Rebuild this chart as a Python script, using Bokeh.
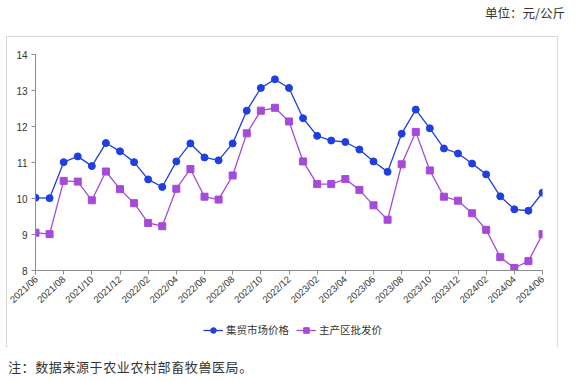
from bokeh.plotting import figure
from bokeh.models import Range1d, Legend, LegendItem, Div, FixedTicker
from bokeh.layouts import column
from bokeh.embed import file_html
from bokeh.resources import INLINE

months = ["2021/06", "2021/07", "2021/08", "2021/09", "2021/10", "2021/11", "2021/12",
          "2022/01", "2022/02", "2022/03", "2022/04", "2022/05", "2022/06", "2022/07",
          "2022/08", "2022/09", "2022/10", "2022/11", "2022/12", "2023/01", "2023/02",
          "2023/03", "2023/04", "2023/05", "2023/06", "2023/07", "2023/08", "2023/09",
          "2023/10", "2023/11", "2023/12", "2024/01", "2024/02", "2024/03", "2024/04",
          "2024/05", "2024/06"]

market = [10.02, 10.01, 11.01, 11.17, 10.90, 11.54, 11.31, 11.01, 10.53, 10.32,
          11.03, 11.53, 11.14, 11.06, 11.53, 12.44, 13.07, 13.31, 13.07, 12.23,
          11.74, 11.61, 11.57, 11.36, 11.03, 10.74, 11.80, 12.47, 11.95, 11.39,
          11.25, 10.97, 10.67, 10.06, 9.70, 9.66, 10.16]

wholesale = [9.05, 9.01, 10.49, 10.47, 9.95, 10.75, 10.26, 9.87, 9.32, 9.23,
             10.27, 10.82, 10.05, 9.97, 10.64, 11.81, 12.44, 12.52, 12.14, 11.03,
             10.40, 10.40, 10.54, 10.24, 9.81, 9.41, 10.95, 11.85, 10.78, 10.05,
             9.94, 9.59, 9.13, 8.37, 8.07, 8.26, 9.01]

series_names = ["集贸市场价格", "主产区批发价"]
unit_text = "单位：元/公斤"
note_text = "注：数据来源于农业农村部畜牧兽医局。"

BLUE = "#1f3fe0"
PURPLE = "#a64ad8"
AXIS = "#8c8c8c"
TEXT = "#333333"

x = list(range(len(months)))

# main chart
p = figure(width=552, height=275, output_backend="svg", toolbar_location=None,
           x_range=Range1d(0, len(months) - 1), y_range=Range1d(8, 14),
           min_border_left=28, min_border_right=15, min_border_top=17, min_border_bottom=42)
p.outline_line_color = None
p.xgrid.grid_line_color = None
p.ygrid.grid_line_color = None

p.line(x, market, line_color=BLUE, line_width=1.3)
p.scatter(x, market, marker="circle", size=7, fill_color=BLUE, line_color=BLUE)
p.line(x, wholesale, line_color=PURPLE, line_width=1.3)
p.scatter(x, wholesale, marker="square", size=7, fill_color=PURPLE, line_color=PURPLE)

for ax in (p.xaxis[0], p.yaxis[0]):
    ax.axis_line_color = AXIS
    ax.major_tick_line_color = AXIS
    ax.minor_tick_line_color = None
    ax.major_tick_in = 0
    ax.major_tick_out = 4
    ax.major_label_text_font = "Liberation Sans"
    ax.major_label_text_color = TEXT

p.yaxis.major_label_text_font_size = "10px"
p.xaxis.major_label_text_font_size = "9.5px"
p.yaxis.ticker = FixedTicker(ticks=[8, 9, 10, 11, 12, 13, 14])
p.yaxis.major_label_standoff = 4
p.xaxis.ticker = FixedTicker(ticks=x[::2])
p.xaxis.major_label_overrides = {i: months[i] for i in x[::2]}
p.xaxis.major_label_orientation = 0.75
p.xaxis.major_label_standoff = 3

# legend strip (legend renderers sit outside this strip's ranges, so only the legend shows)
lg = figure(width=552, height=36, output_backend="svg", toolbar_location=None,
            x_range=Range1d(100, 101), y_range=Range1d(100, 101),
            x_axis_type=None, y_axis_type=None,
            min_border_left=0, min_border_right=0, min_border_top=0, min_border_bottom=0)
lg.outline_line_color = None
lg.xgrid.grid_line_color = None
lg.ygrid.grid_line_color = None
e1 = lg.line(x[:2], market[:2], line_color=BLUE, line_width=1.3)
c1 = lg.scatter(x[:2], market[:2], marker="circle", size=8, fill_color=BLUE, line_color=BLUE)
e2 = lg.line(x[:2], wholesale[:2], line_color=PURPLE, line_width=1.3)
c2 = lg.scatter(x[:2], wholesale[:2], marker="square", size=8, fill_color=PURPLE, line_color=PURPLE)

legend = Legend(items=[LegendItem(label=series_names[0], renderers=[e1, c1]),
                       LegendItem(label=series_names[1], renderers=[e2, c2])],
                orientation="horizontal", location=(168, 11),
                border_line_color=None, background_fill_alpha=0,
                label_text_font="Noto Sans CJK SC", label_text_font_size="10.5px",
                label_text_color=TEXT, glyph_width=20, glyph_height=14,
                spacing=7, label_standoff=3, padding=0, margin=0)
lg.add_layout(legend, "center")

box = column(p, lg, width=552, height=311, spacing=0,
             styles={"border": "1px solid #d9d9d9"}, margin=(0, 0, 0, 6))

top = Div(text=f'<div style="font-family:\'Noto Sans CJK SC\';font-size:12.5px;line-height:12px;padding-top:2px;color:{TEXT};text-align:right;width:560px;">{unit_text}</div>',
          width=560, height=26)
note = Div(text=f'<div style="font-family:\'Noto Sans CJK SC\';font-size:13px;line-height:14px;color:{TEXT};letter-spacing:0.6px;padding-top:13px;">{note_text}</div>',
           width=400, height=30, margin=(0, 0, 0, 8))

layout = column(top, box, note, spacing=0)

open("out.html", "w").write(file_html(layout, INLINE))
